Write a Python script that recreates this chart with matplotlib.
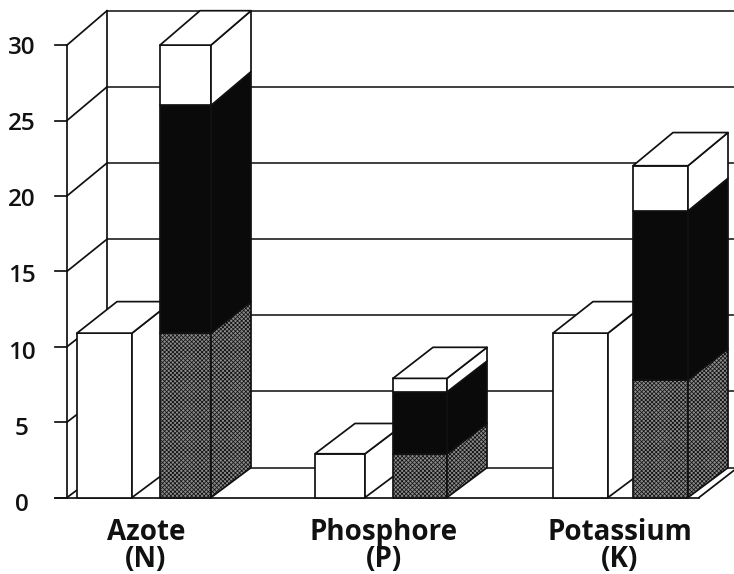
import matplotlib
matplotlib.use("Agg")
import matplotlib.pyplot as plt
from matplotlib.patches import Polygon

categories = ["Azote\n(N)", "Phosphore\n(P)", "Potassium\n(K)"]
single_values = [10.9, 2.9, 10.9]
stack_lower = [10.9, 2.9, 7.8]
stack_middle = [15.1, 4.1, 11.2]
stack_upper = [4.0, 0.9, 3.0]
y_ticks = [0, 5, 10, 15, 20, 25, 30]

plt.rcParams["font.family"] = ["Open Sans", "DejaVu Sans"]
plt.rcParams["hatch.linewidth"] = 0.55
INK = "#111111"
LW = 1.25
PX = 15.08            # pixels per value unit
DX = 40               # depth offset, px

fig = plt.figure(figsize=(7.34, 5.74), dpi=100)
ax = fig.add_axes([0, 0, 1, 1])
ax.set_xlim(0, 734)
ax.set_ylim(-(574 - 497.5) / PX, 497.5 / PX)
ax.axis("off")


def back(v):
    """Value height of level v on the rear plane."""
    return v * 1.01 + 1.98


# walls and grid
for v in y_ticks:
    ax.plot([107, 734], [back(v)] * 2, color=INK, lw=LW * 0.9, zorder=1)
    ax.plot([67, 107], [v, back(v)], color=INK, lw=LW, zorder=1)
    ax.plot([55, 67], [v, v], color=INK, lw=LW, zorder=1)
    ax.text(22, v * 1.011 - 0.5, str(v), ha="center", va="center",
            fontsize=17.5, fontweight=600, color=INK)
ax.plot([67, 67], [0, 30], color=INK, lw=LW, zorder=1)
ax.plot([107, 107], [back(0), back(30)], color=INK, lw=LW, zorder=1)
ax.plot([55, 699], [0, 0], color=INK, lw=LW, zorder=1)
ax.plot([699, 734], [0, 1.8], color=INK, lw=LW, zorder=1)


def box(x0, x1, v0, v1, face, hatch=None, z=2, top=False):
    front = [(x0, v0), (x1, v0), (x1, v1), (x0, v1)]
    side = [(x1, v0), (x1 + DX, back(v0)), (x1 + DX, back(v1)), (x1, v1)]
    polys = [front, side]
    if top:
        polys.append([(x0, v1), (x1, v1), (x1 + DX, back(v1)), (x0 + DX, back(v1))])
    for pts in polys:
        ax.add_patch(Polygon(pts, closed=True, facecolor=face, edgecolor=INK,
                             lw=LW, hatch=hatch, zorder=z, joinstyle="round"))


single_x = [(77, 132), (315, 365), (553, 608)]
stack_x = [(160, 211), (393, 447), (633, 688)]
label_x = [146, 384, 620]

for i, name in enumerate(categories):
    box(*single_x[i], 0, single_values[i], "white", z=3, top=True)
    a = stack_lower[i]
    b = a + stack_middle[i]
    c = b + stack_upper[i]
    box(*stack_x[i], 0, a, "#8c8c8c", hatch="xxxxxxxx", z=4)
    box(*stack_x[i], a, b, "#0a0a0a", z=4)
    box(*stack_x[i], b, c, "white", z=4, top=True)
    first, second = name.split("\n")
    ax.text(label_x[i], -2.3, first, ha="center", va="center",
            fontsize=20, fontweight="bold", color=INK)
    ax.text(label_x[i], -4.12, second, ha="center", va="center",
            fontsize=20, fontweight="bold", color=INK)

fig.savefig("out.png", dpi=100, facecolor="white")
